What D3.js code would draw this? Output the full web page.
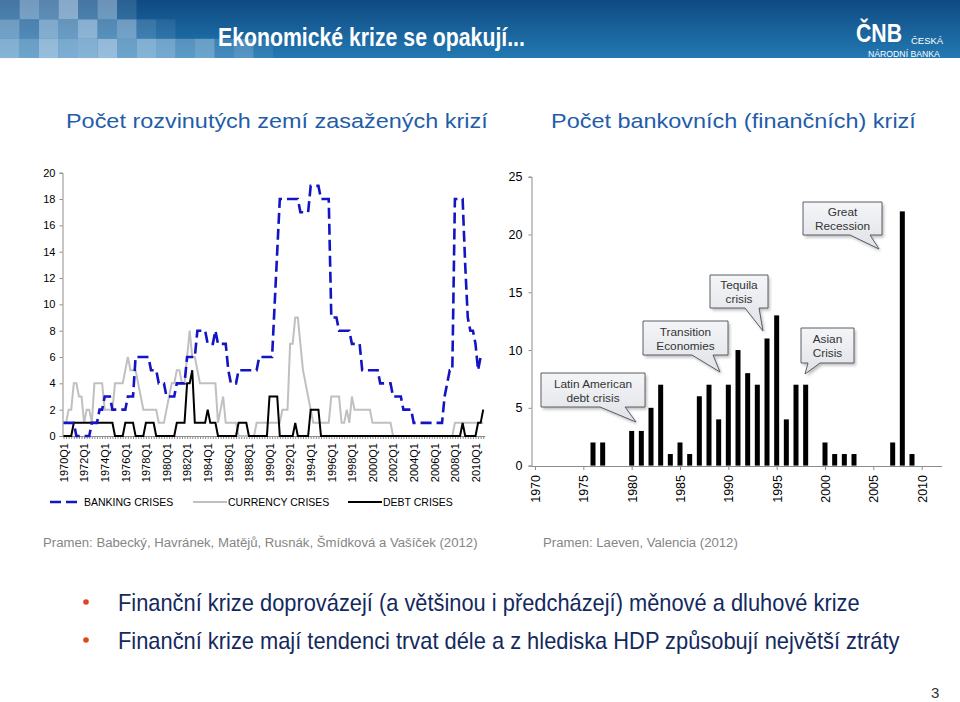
<!DOCTYPE html>
<html><head><meta charset="utf-8">
<script src="https://cdn.jsdelivr.net/npm/d3@7"></script>
<style>body{margin:0;background:#fff}svg{display:block}</style>
</head><body><svg id="c" width="960" height="702"></svg>
<script>
// ---------------- DATA ----------------
// Left chart: number of developed countries in crisis, quarterly 1970Q1..2010Q4
const leftXTickLabels = ["1970Q1","1972Q1","1974Q1","1976Q1","1978Q1","1980Q1","1982Q1","1984Q1","1986Q1","1988Q1","1990Q1","1992Q1","1994Q1","1996Q1","1998Q1","2000Q1","2002Q1","2004Q1","2006Q1","2008Q1","2010Q1"];
const leftYTicks = [0,2,4,6,8,10,12,14,16,18,20];
const banking = [
 1,1,1,1, 1,0,0,0, 0,0,0,1, 1,1,2,2, 3,3,3,2, 2,2,2,2, 2,3,3,3, 6,6,6,6, 6,6,5,5, 5,4,4,4,
 3,3,3,3, 4,4,4,4, 6,6,6,6, 8,8,8,8, 7,7,7,8, 7,7,7,7, 5,4,4,4, 5,5,5,5, 5,5,5,5, 6,6,6,6,
 6,6,10,14, 18,18,18,18, 18,18,18,18, 17,17,17,17, 19,19,19,19, 18,18,18,18, 9,9,9,8, 8,8,8,8, 7,7,7,7, 5,5,5,5,
 5,5,5,4, 4,4,4,4, 3,3,3,3, 2,2,2,2, 1,1,1,1, 1,1,1,1, 1,1,1,1, 3,4,5,5, 18,18,18,18, 13,9,8,8,
 7,5,6,6];
const currency = [
 1,1,2,2, 4,4,3,3, 1,2,2,1, 4,4,4,4, 2,2,2,2, 4,4,4,4, 5,6,5,5, 5,4,3,2, 2,2,2,2, 2,1,1,1,
 2,3,4,4, 5,5,4,4, 6,8,6,6, 5,4,4,4, 4,4,4,4, 1,2,3,1, 1,1,1,1, 0,0,0,0, 0,0,0,1, 1,1,1,1,
 1,1,1,1, 1,2,2,2, 7,7,9,9, 7,5,4,3, 2,1,1,1, 1,1,1,1, 3,3,3,3, 1,1,2,1, 3,2,2,2, 2,2,2,2,
 1,1,1,1, 1,1,1,1, 0,0,0,0, 0,0,0,0, 0,0,0,0, 0,0,0,0, 0,0,0,0, 0,0,0,0, 1,1,1,1, 1,1,1,1,
 1,1,1,1];
const debt = [
 0,0,0,0, 1,1,1,1, 1,1,1,1, 1,1,1,1, 1,1,1,1, 0,0,0,0, 1,1,1,1, 0,0,0,0, 1,1,1,1, 0,0,0,0,
 0,0,0,0, 1,1,1,1, 4,4,5,1, 1,1,1,1, 2,1,1,1, 0,0,0,0, 0,0,0,0, 1,1,1,1, 0,0,0,0, 0,0,0,0,
 3,3,3,3, 0,0,0,0, 0,0,1,0, 0,0,0,0, 2,2,2,2, 0,0,0,0, 0,0,0,0, 0,0,0,0, 0,0,0,0, 0,0,0,0,
 0,0,0,0, 0,0,0,0, 0,0,0,0, 0,0,0,0, 0,0,0,0, 0,0,0,0, 0,0,0,0, 0,0,0,0, 0,0,0,1, 0,0,0,0,
 0,1,1,2];
const legendLabels = ["BANKING CRISES","CURRENCY CRISES","DEBT CRISES"];

// Right chart: number of banking crises per year
const barYears  = [1976,1977,1980,1981,1982,1983,1984,1985,1986,1987,1988,1989,1990,1991,1992,1993,1994,1995,1996,1997,1998,2000,2001,2002,2003,2007,2008,2009];
const barValues = [2,2,3,3,5,7,1,2,1,6,7,4,7,10,8,7,11,13,4,7,7,2,1,1,1,2,22,1];
const rightYTicks = [0,5,10,15,20,25];
const rightXTicks = [1970,1975,1980,1985,1990,1995,2000,2005,2010];
const calloutTexts = [["Latin American","debt crisis"],["Transition","Economies"],["Tequila","crisis"],["Great","Recession"],["Asian","Crisis"]];

const headerTitle = "Ekonomické krize se opakují...";
const leftTitle = "Počet rozvinutých zemí zasažených krizí";
const rightTitle = "Počet bankovních (finančních) krizí";
const leftSource = "Pramen: Babecký, Havránek, Matějů, Rusnák, Šmídková a Vašíček (2012)";
const rightSource = "Pramen: Laeven, Valencia (2012)";
const bullets = ["Finanční krize doprovázejí (a většinou i předcházejí) měnové a dluhové krize",
                 "Finanční krize mají tendenci trvat déle a z hlediska HDP způsobují největší ztráty"];

// ---------------- DRAW ----------------
const svg = d3.select("#c");
const FONT = "'Liberation Sans', Arial, sans-serif";
const NARROW = "'Liberation Sans Narrow', 'Arial Narrow', 'Liberation Sans', Arial, sans-serif";
const defs = svg.append("defs");
const hg = defs.append("linearGradient").attr("id","hdr").attr("x1",0).attr("y1",0).attr("x2",0).attr("y2",1);
hg.append("stop").attr("offset","0%").attr("stop-color","#0f4a82");
hg.append("stop").attr("offset","100%").attr("stop-color","#2379b3");
const cg = defs.append("linearGradient").attr("id","cog").attr("x1",0).attr("y1",0).attr("x2",0).attr("y2",1);
cg.append("stop").attr("offset","0%").attr("stop-color","#f4f5f7");
cg.append("stop").attr("offset","100%").attr("stop-color","#dfe2e7");
const flt = defs.append("filter").attr("id","sh").attr("x","-20%").attr("y","-20%").attr("width","150%").attr("height","160%");
flt.append("feGaussianBlur").attr("stdDeviation",1.5);

// helper: text squeezed horizontally to a target width via transform
function fitText(sel, str, x, y, width, attrs){
  const t = sel.append("text").text(str).attr("x",0).attr("y",0);
  Object.entries(attrs).forEach(([k,v])=>t.attr(k,v));
  const w = t.node().getComputedTextLength() || width;
  t.attr("transform",`translate(${x},${y}) scale(${width/w},1)`);
  return t;
}

// header
svg.append("rect").attr("x",0).attr("y",0).attr("width",960).attr("height",58).attr("fill","url(#hdr)");
const mosaic = [
 [.30,.55,.40,.65,.30,.50,.15,0,0,0,0,0,0,0],
 [.50,.30,.60,.45,.65,.35,.50,.20,.10,0,0,0,0,0],
 [.60,.45,.70,.55,.60,.70,.45,.60,.50,.35,.45,.20,.30,.10]];
mosaic.forEach((row,r)=>row.forEach((o,c)=>{ if(o>0) svg.append("rect").attr("x",c*19.5).attr("y",r*19.4).attr("width",19.5).attr("height",19.4).attr("fill","#c7dcee").attr("opacity",o);}));
fitText(svg, headerTitle, 218, 46, 307, {"fill":"#fff","font-family":NARROW,"font-weight":"bold","font-size":26});
fitText(svg, "ČNB", 856, 42, 46, {"fill":"#fff","font-family":NARROW,"font-weight":"bold","font-size":26});
svg.append("text").text("ČESKÁ").attr("x",911).attr("y",44).attr("fill","#fff").attr("font-family",NARROW).attr("font-size",9.5);
fitText(svg, "NÁRODNÍ BANKA", 868, 57, 72, {"fill":"#fff","font-family":NARROW,"font-size":9.5});

// chart titles
fitText(svg, leftTitle, 66, 128, 422, {"fill":"#1f5dab","font-family":FONT,"font-size":20.5});
fitText(svg, rightTitle, 551, 128, 365, {"fill":"#1f5dab","font-family":FONT,"font-size":20.5});

// ---------- left chart ----------
const n = banking.length;
const xL = d3.scaleLinear().domain([0, n-1]).range([63.5, 63.5 + (n-1)*2.575]);
const yL = d3.scaleLinear().domain([0, 20]).range([436, 172.7]);
const gL = svg.append("g");
const yAxL = gL.append("g").attr("transform","translate(62.5,0)").call(d3.axisLeft(yL).tickValues(leftYTicks).tickSize(3).tickPadding(4));
yAxL.select(".domain").attr("stroke","#8c8c8c");
yAxL.selectAll(".tick line").attr("stroke","#8c8c8c");
yAxL.selectAll("text").attr("font-family",FONT).attr("font-size",11).attr("fill","#000");
// x axis minor quarter ticks
const xAxL = gL.append("g").attr("transform","translate(0,436)").call(d3.axisBottom(xL).tickValues(d3.range(0,n)).tickSize(3).tickFormat(""));
xAxL.select(".domain").attr("stroke","#8c8c8c").attr("d",`M62.5,0.5H${xL(n-1)+2}`);
xAxL.selectAll(".tick line").attr("stroke","#8c8c8c");
const lblIdx = leftXTickLabels.map((d,i)=>i*8);
const xLbl = gL.append("g").attr("transform","translate(0,436)").call(d3.axisBottom(xL).tickValues(lblIdx).tickSize(0).tickFormat((d,i)=>leftXTickLabels[i]));
xLbl.select(".domain").remove();
xLbl.selectAll("text").attr("transform","rotate(-90)").attr("text-anchor","end").attr("x",-7).attr("y",0).attr("dy","0.35em").attr("font-family",FONT).attr("font-size",11).attr("fill","#000");

const line = d3.line().x((d,i)=>xL(i)).y(d=>yL(d));
gL.append("path").datum(currency).attr("d",line).attr("fill","none").attr("stroke","#c0c0c0").attr("stroke-width",2);
gL.append("path").datum(debt).attr("d",line).attr("fill","none").attr("stroke","#000").attr("stroke-width",2);
gL.append("path").datum(banking).attr("d",line).attr("fill","none").attr("stroke","#1414c4").attr("stroke-width",2.6).attr("stroke-dasharray","11,5");

// legend
const legItems = [
 {x0:50,x1:80,tx:84,stroke:"#1414c4",w:2.6,dash:"11,5"},
 {x0:193,x1:227,tx:228,stroke:"#c0c0c0",w:2,dash:null},
 {x0:348,x1:382,tx:383,stroke:"#000",w:2,dash:null}];
legItems.forEach((it,i)=>{
  const l = svg.append("line").attr("x1",it.x0).attr("x2",it.x1).attr("y1",502).attr("y2",502).attr("stroke",it.stroke).attr("stroke-width",it.w);
  if(it.dash) l.attr("stroke-dasharray",it.dash);
  svg.append("text").text(legendLabels[i]).attr("x",it.tx).attr("y",506).attr("font-family",FONT).attr("font-size",10.5).attr("fill","#000");
});

// ---------- right chart ----------
const xR = d3.scaleLinear().domain([1970, 2012]).range([535, 941]);
const yR = d3.scaleLinear().domain([0, 25]).range([465.6, 176.7]);
const gR = svg.append("g");
const yAxR = gR.append("g").attr("transform","translate(531.5,0)").call(d3.axisLeft(yR).tickValues(rightYTicks).tickSize(3).tickPadding(6));
yAxR.select(".domain").attr("stroke","#8c8c8c");
yAxR.selectAll(".tick line").attr("stroke","#8c8c8c");
yAxR.selectAll("text").attr("font-family",FONT).attr("font-size",12.5).attr("fill","#000");
const xAxR = gR.append("g").attr("transform","translate(0,466)").call(d3.axisBottom(xR).tickValues(rightXTicks).tickSize(4).tickFormat(d3.format("d")));
xAxR.select(".domain").attr("stroke","#8c8c8c").attr("d","M531.5,0.5H942");
xAxR.selectAll(".tick line").attr("stroke","#8c8c8c");
xAxR.selectAll("text").attr("transform","rotate(-90)").attr("text-anchor","end").attr("x",-9).attr("y",0).attr("dy","0.35em").attr("font-family",FONT).attr("font-size",12.5).attr("fill","#000");
gR.selectAll("rect.bar").data(barYears).enter().append("rect").attr("class","bar")
  .attr("x",(d)=>xR(d)-2.5).attr("width",5)
  .attr("y",(d,i)=>yR(barValues[i])).attr("height",(d,i)=>yR(0)-yR(barValues[i])).attr("fill","#000");

// callouts (box x0,y0,x1,y1 ; tail base a,b ; tip)
const calloutGeo = [
 {b:[541,373,645,407], t:[600,625], tip:[636,422]},
 {b:[643,321,728,355], t:[692,713], tip:[720,372]},
 {b:[710,275,768,308], t:[745,759], tip:[763,331]},
 {b:[803,202,882,235], t:[850,870], tip:[879,249]},
 {b:[801,328,854,363], t:[808,820], tip:[805,374]}];
calloutGeo.forEach((g,i)=>{
  const [x0,y0,x1,y1] = g.b;
  const p = `M${x0},${y0}H${x1}V${y1}H${g.t[1]}L${g.tip[0]},${g.tip[1]}L${g.t[0]},${y1}H${x0}Z`;
  svg.append("path").attr("d",p).attr("fill","#888").attr("opacity",0.55).attr("transform","translate(2,2.5)").attr("filter","url(#sh)");
  svg.append("path").attr("d",p).attr("fill","url(#cog)").attr("stroke","#5a5f66").attr("stroke-width",1);
  const cx = (x0+x1)/2, cy = (y0+y1)/2;
  calloutTexts[i].forEach((t,k)=>{
    svg.append("text").text(t).attr("x",cx).attr("y",cy-2.5+k*14).attr("text-anchor","middle").attr("font-family",FONT).attr("font-size",11.8).attr("fill","#333");
  });
});

// sources
fitText(svg, leftSource, 43, 547, 435, {"fill":"#858585","font-family":NARROW,"font-size":13.5});
fitText(svg, rightSource, 543, 547, 195, {"fill":"#858585","font-family":NARROW,"font-size":13.5});

// bullets
const bLen = [742, 782];
bullets.forEach((b,i)=>{
  svg.append("circle").attr("cx",86).attr("cy",602+i*38).attr("r",2.8).attr("fill","#e2441f");
  fitText(svg, b, 118, 611+i*38, bLen[i], {"fill":"#13295e","font-family":NARROW,"font-size":24});
});
svg.append("text").text("3").attr("x",931).attr("y",698).attr("fill","#333").attr("font-family",FONT).attr("font-size",15);
</script></body></html>
